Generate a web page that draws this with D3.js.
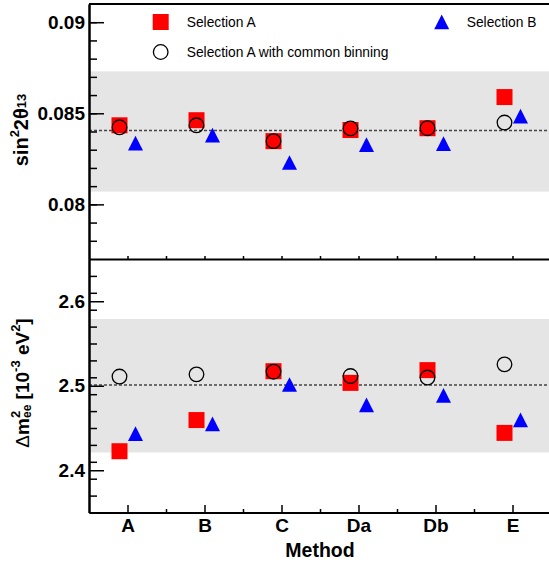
<!DOCTYPE html>
<html>
<head>
<meta charset="utf-8">
<script src="https://cdn.jsdelivr.net/npm/d3@7"></script>
<style>
	body { margin: 0; background: #fff; }
	text { font-family: "Liberation Sans", Arial, Helvetica, sans-serif; }
</style>
</head>
<body>
<div id="chart"></div>
<script>
// values
var methods = ["A", "B", "C", "Da", "Db", "E"];

var s13SelA = [0.08434, 0.08462, 0.08347, 0.08408, 0.08418, 0.08589];
var s13Common = [0.08423, 0.08434, 0.08347, 0.08417, 0.08418, 0.08449];
var s13SelB = [0.08335, 0.08379, 0.08229, 0.08327, 0.08333, 0.08484];
var s13Band = [0.0807, 0.0873];
var s13Central = 0.08405;
var s13Ticks = [0.08, 0.085, 0.09];

var dmSelA = [2.4225, 2.4594, 2.5172, 2.5034, 2.5185, 2.4442];
var dmCommon = [2.5109, 2.5135, 2.5166, 2.5115, 2.5097, 2.5253];
var dmSelB = [2.4432, 2.4548, 2.5013, 2.4771, 2.4884, 2.4595];
var dmBand = [2.421, 2.579];
var dmCentral = 2.501;
var dmTicks = [2.4, 2.5, 2.6];

var w = 549;
var h = 563;
var left = 89;
var right = 551;

var svg = d3.select("#chart")
	.append("svg")
	.attr("width", w)
	.attr("height", h);

// category i sits at i + 0.5
var xScale = d3.scaleLinear()
	.domain([0, methods.length])
	.range([left, right]);

var yTop = d3.scaleLinear().domain([0.077, 0.091]).range([259, 4]);
var yBot = d3.scaleLinear().domain([2.35, 2.65]).range([512.5, 259]);

function xPos(i, off) {
	return xScale(i + 0.5) + off;
}

function drawPanel(y, band, central, selA, common, selB) {
	var g = svg.append("g");

	g.append("rect")
		.attr("x", left)
		.attr("width", right - left)
		.attr("y", y(band[1]))
		.attr("height", y(band[0]) - y(band[1]))
		.attr("fill", "#e5e5e5");

	g.append("line")
		.attr("x1", left)
		.attr("x2", right)
		.attr("y1", y(central))
		.attr("y2", y(central))
		.attr("stroke", "#444")
		.attr("stroke-width", 1.5)
		.attr("stroke-dasharray", "3,2");

	// Selection A: red squares
	g.selectAll(".sq")
		.data(selA)
		.enter()
		.append("rect")
		.attr("x", function(d, i) { return xPos(i, -8) - 8; })
		.attr("y", function(d) { return y(d) - 8; })
		.attr("width", 16)
		.attr("height", 16)
		.attr("fill", "#ff0000");

	// common binning: open circles
	g.selectAll(".circ")
		.data(common)
		.enter()
		.append("circle")
		.attr("cx", function(d, i) { return xPos(i, -8); })
		.attr("cy", function(d) { return y(d); })
		.attr("r", 7.3)
		.attr("fill", "none")
		.attr("stroke", "#000")
		.attr("stroke-width", 1.3);

	// Selection B: blue triangles
	g.selectAll(".tri")
		.data(selB)
		.enter()
		.append("path")
		.attr("d", function(d, i) {
			var cx = xPos(i, 8), cy = y(d);
			return "M" + (cx - 7.5) + "," + (cy + 7.2) +
				"L" + (cx + 7.5) + "," + (cy + 7.2) +
				"L" + cx + "," + (cy - 7.5) + "Z";
		})
		.attr("fill", "#0000ff");
}

drawPanel(yTop, s13Band, s13Central, s13SelA, s13Common, s13SelB);
drawPanel(yBot, dmBand, dmCentral, dmSelA, dmCommon, dmSelB);

// minor tick values
function minors(y, step) {
	var dom = y.domain();
	var out = [];
	var n = Math.round((dom[1] - dom[0]) / step);
	for (var k = 1; k < n; k++) {
		out.push(+(dom[0] + k * step).toFixed(5));
	}
	return out;
}

function styleAxis(g, sw) {
	g.selectAll(".domain").attr("stroke-width", sw);
	g.selectAll(".tick line").attr("stroke-width", 1.5);
}

function drawYAxis(y, ticks, step, fmt) {
	var gMinor = svg.append("g")
		.attr("transform", "translate(" + left + ",0)")
		.call(d3.axisLeft(y).tickValues(minors(y, step)).tickSizeInner(-8).tickSizeOuter(0).tickFormat(""));
	styleAxis(gMinor, 2);

	var gMajor = svg.append("g")
		.attr("transform", "translate(" + left + ",0)")
		.call(d3.axisLeft(y).tickValues(ticks).tickSizeInner(-15).tickSizeOuter(0).tickPadding(4).tickFormat(fmt));
	styleAxis(gMajor, 2);
	gMajor.selectAll("text")
		.attr("font-size", 19)
		.attr("font-weight", "bold")
		.attr("fill", "#000");
}

drawYAxis(yTop, s13Ticks, 0.001, d3.format(""));
drawYAxis(yBot, dmTicks, 0.02, d3.format(".1f"));

var boundaries = d3.range(1, methods.length);
var centers = methods.map(function(d, i) { return i + 0.5; });

// top panel x axis, small ticks only
var gTopX = svg.append("g")
	.attr("transform", "translate(0," + yTop.range()[0] + ")")
	.call(d3.axisBottom(xScale).tickValues(centers.concat(boundaries)).tickSizeInner(-3).tickSizeOuter(0).tickFormat(""));
styleAxis(gTopX, 2);

// bottom x axis
var gBotMinor = svg.append("g")
	.attr("transform", "translate(0," + yBot.range()[0] + ")")
	.call(d3.axisBottom(xScale).tickValues(boundaries).tickSizeInner(-3.5).tickSizeOuter(0).tickFormat(""));
styleAxis(gBotMinor, 2);

var gBotX = svg.append("g")
	.attr("transform", "translate(0," + yBot.range()[0] + ")")
	.call(d3.axisBottom(xScale).tickValues(centers).tickSizeInner(-7.5).tickSizeOuter(0).tickPadding(6)
		.tickFormat(function(d) { return methods[Math.floor(d)]; }));
styleAxis(gBotX, 2);
gBotX.selectAll("text")
	.attr("font-size", 19)
	.attr("font-weight", "bold")
	.attr("fill", "#000");

// top frame line
svg.append("line")
	.attr("x1", left)
	.attr("x2", right)
	.attr("y1", yTop.range()[1])
	.attr("y2", yTop.range()[1])
	.attr("stroke", "#000")
	.attr("stroke-width", 2);

svg.append("text")
	.attr("x", (left + right) / 2)
	.attr("y", 557)
	.attr("text-anchor", "middle")
	.attr("font-size", 19.5)
	.attr("font-weight", "bold")
	.text("Method");

// y titles
var t1 = svg.append("text")
	.attr("transform", "translate(28,130) rotate(-90)")
	.attr("text-anchor", "middle")
	.attr("font-size", 20)
	.attr("font-weight", "bold");
t1.append("tspan").text("sin");
t1.append("tspan").attr("font-size", 13).attr("dy", -9).text("2");
t1.append("tspan").attr("dy", 9).text("2θ");
t1.append("tspan").attr("font-size", 13).attr("dy", -2).text("13");

var t2 = svg.append("text")
	.attr("transform", "translate(29,383) rotate(-90)")
	.attr("text-anchor", "middle")
	.attr("font-size", 19)
	.attr("font-weight", "bold");
t2.append("tspan").attr("font-weight", "normal").text("Δ");
t2.append("tspan").text("m");
t2.append("tspan").attr("font-size", 13).attr("dy", -9).text("2");
t2.append("tspan").attr("font-size", 12).attr("dx", -7.2).attr("dy", 11).text("ee");
t2.append("tspan").attr("dy", -2).text(" [10");
t2.append("tspan").attr("font-size", 13).attr("dy", -9).text("-3");
t2.append("tspan").attr("dy", 9).text(" eV");
t2.append("tspan").attr("font-size", 13).attr("dy", -9).text("2");
t2.append("tspan").attr("dy", 9).text("]");

// legend
var legend = svg.append("g");
legend.append("rect")
	.attr("x", 152.7).attr("y", 14).attr("width", 16).attr("height", 16)
	.attr("fill", "#ff0000");
legend.append("circle")
	.attr("cx", 160.7).attr("cy", 52).attr("r", 7.3)
	.attr("fill", "none").attr("stroke", "#000").attr("stroke-width", 1.3);
legend.append("path")
	.attr("d", "M434.2,29.2L449.2,29.2L441.7,14.5Z")
	.attr("fill", "#0000ff");

var legendItems = [
	{ x: 186.7, y: 27, label: "Selection A" },
	{ x: 186.7, y: 57, label: "Selection A with common binning" },
	{ x: 466.7, y: 27, label: "Selection B" }
];
legend.selectAll("text")
	.data(legendItems)
	.enter()
	.append("text")
	.attr("x", function(d) { return d.x; })
	.attr("y", function(d) { return d.y; })
	.attr("font-size", 13.8)
	.text(function(d) { return d.label; });
</script>
</body>
</html>
